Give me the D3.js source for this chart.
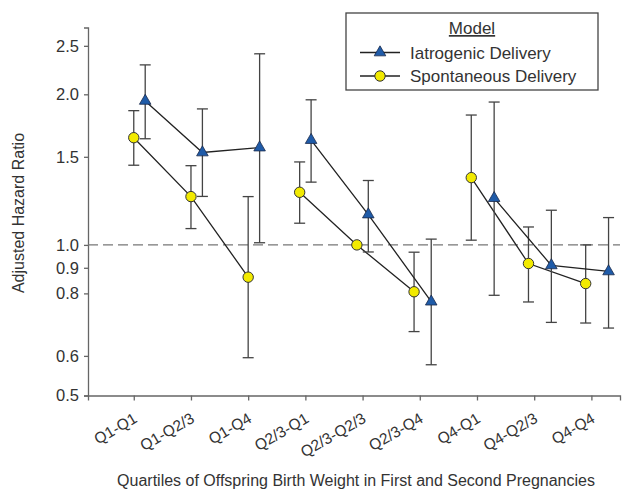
<!DOCTYPE html>
<html>
<head>
<meta charset="utf-8">
<script src="https://cdn.jsdelivr.net/npm/d3@7"></script>
<style>
	body {margin:0; background:#fff;}
	text {font-family: "Liberation Sans", Arial, sans-serif; fill:#333;}
</style>
</head>
<body>
<div id="chartDiv"></div>
<script>
//categories along the bottom
var categories = ['Q1-Q1','Q1-Q2/3','Q1-Q4','Q2/3-Q1','Q2/3-Q2/3','Q2/3-Q4','Q4-Q1','Q4-Q2/3','Q4-Q4'];
var yTicks = [0.5, 0.6, 0.8, 0.9, 1.0, 1.5, 2.0, 2.5];

//iatrogenic delivery (triangles)
var iatroX = [1.2, 2.2, 3.2, 4.1, 5.1, 6.2, 7.3, 8.3, 9.3];
var iatroHR = [1.94, 1.53, 1.565, 1.62, 1.15, 0.77, 1.24, 0.91, 0.885];
var iatroLo = [1.63, 1.25, 1.01, 1.335, 0.968, 0.576, 0.793, 0.70, 0.682];
var iatroHi = [2.29, 1.87, 2.41, 1.95, 1.345, 1.027, 1.93, 1.173, 1.134];

//spontaneous delivery (circles), Q2/3-Q2/3 is the reference
var spontX = [1.0, 2.0, 3.0, 3.9, 4.9, 5.9, 6.9, 7.9, 8.9];
var spontHR = [1.638, 1.249, 0.862, 1.274, 1.0, 0.806, 1.363, 0.918, 0.837];
var spontLo = [1.443, 1.078, 0.595, 1.105, null, 0.671, 1.022, 0.769, 0.698];
var spontHi = [1.855, 1.44, 1.249, 1.465, null, 0.967, 1.818, 1.086, 1.0];

//which points get joined by a line
var groups = [[0,1,2],[3,4,5],[6,7,8]];

var params = {
	width:624,
	height:493,
	axisColor:'#666',
	capHalf:5.5
};

var svg = d3.select('#chartDiv').append('svg')
	.attr('width', params.width)
	.attr('height', params.height)

var x = d3.scaleLinear().domain([0.2, 9.5]).range([88, 620]);
var y = d3.scaleLog().domain([0.5, 2.72]).range([395.5, 27.5]);

//axes
var yAxis = d3.axisLeft(y).tickValues(yTicks).tickFormat(d3.format('.1f')).tickSizeOuter(0).tickSize(4).tickPadding(5);
var gy = svg.append('g').attr('transform','translate(88,0)').call(yAxis);
gy.selectAll('text').style('font-size','16.5px').style('fill','#333');

var xAxis = d3.axisBottom(x).tickValues(d3.range(1,10)).tickFormat(function(d){return categories[d-1]}).tickSizeOuter(0).tickSize(5);
var gx = svg.append('g').attr('transform','translate(0,395.5)').call(xAxis);
gx.selectAll('text')
	.style('font-size','15.5px')
	.style('fill','#333')
	.attr('text-anchor','end')
	.attr('dy', null)
	.attr('y', 0)
	.attr('x', 0)
	.attr('transform','translate(4,26) rotate(-30)');

svg.selectAll('.domain, .tick line').attr('stroke', params.axisColor).attr('stroke-width',1.3);

//reference line at 1
svg.append('line')
	.attr('x1', 88).attr('x2', 620)
	.attr('y1', y(1)).attr('y2', y(1))
	.attr('stroke','#777')
	.attr('stroke-width',1.4)
	.attr('stroke-dasharray','10,5')

function drawSeries(xs, hr, lo, hi, name){
	var g = svg.append('g').attr('class', name);
	var pts = xs.map(function(d,i){return {x:d, hr:hr[i], lo:lo[i], hi:hi[i]}});
	var withErr = pts.filter(function(d){return d.lo != null});

	//error bars
	g.selectAll('.err').data(withErr).enter().append('line')
		.attr('x1', function(d){return x(d.x)}).attr('x2', function(d){return x(d.x)})
		.attr('y1', function(d){return y(d.lo)}).attr('y2', function(d){return y(d.hi)})
		.attr('stroke','#444').attr('stroke-width',1.3);
	['lo','hi'].forEach(function(k){
		g.selectAll('.cap'+k).data(withErr).enter().append('line')
			.attr('x1', function(d){return x(d.x) - params.capHalf}).attr('x2', function(d){return x(d.x) + params.capHalf})
			.attr('y1', function(d){return y(d[k])}).attr('y2', function(d){return y(d[k])})
			.attr('stroke','#444').attr('stroke-width',1.3);
	})

	//connecting lines within each group
	var line = d3.line().x(function(d){return x(d.x)}).y(function(d){return y(d.hr)});
	groups.forEach(function(idx){
		g.append('path')
			.attr('d', line(idx.map(function(i){return pts[i]})))
			.attr('fill','none')
			.attr('stroke','#222')
			.attr('stroke-width',1.3);
	})
	return {g:g, pts:pts};
}

var sp = drawSeries(spontX, spontHR, spontLo, spontHi, 'spont');
var ia = drawSeries(iatroX, iatroHR, iatroLo, iatroHi, 'iatro');

//markers on top
sp.g.selectAll('circle').data(sp.pts).enter().append('circle')
	.attr('cx', function(d){return x(d.x)})
	.attr('cy', function(d){return y(d.hr)})
	.attr('r', 5.2)
	.attr('fill','#f2ea00')
	.attr('stroke','#333')
	.attr('stroke-width',1);
ia.g.selectAll('.tri').data(ia.pts).enter().append('path')
	.attr('d', d3.symbol().type(d3.symbolTriangle).size(58))
	.attr('transform', function(d){return 'translate(' + x(d.x) + ',' + y(d.hr) + ')'})
	.attr('fill','#1f5ba8')
	.attr('stroke','#1a2a4a')
	.attr('stroke-width',0.8);

//axis titles
svg.append('text')
	.attr('transform','translate(24,213) rotate(-90)')
	.attr('text-anchor','middle')
	.style('font-size','16px')
	.text('Adjusted Hazard Ratio');
svg.append('text')
	.attr('x', 356).attr('y', 486)
	.attr('text-anchor','middle')
	.style('font-size','16px')
	.text('Quartiles of Offspring Birth Weight in First and Second Pregnancies');

//legend
var leg = svg.append('g');
leg.append('rect')
	.attr('x',346).attr('y',13).attr('width',252).attr('height',77)
	.attr('fill','#fff').attr('stroke','#444').attr('stroke-width',1.3);
leg.append('text')
	.attr('x',472).attr('y',34)
	.attr('text-anchor','middle')
	.style('font-size','17px')
	.style('text-decoration','underline')
	.text('Model');
var legItems = [{name:'Iatrogenic Delivery', y:52.5, type:'tri'}, {name:'Spontaneous Delivery', y:76, type:'circ'}];
legItems.forEach(function(d){
	leg.append('line').attr('x1',360).attr('x2',400).attr('y1',d.y).attr('y2',d.y).attr('stroke','#222').attr('stroke-width',1.3);
	if (d.type == 'tri'){
		leg.append('path').attr('d', d3.symbol().type(d3.symbolTriangle).size(58))
			.attr('transform','translate(380,' + d.y + ')')
			.attr('fill','#1f5ba8').attr('stroke','#1a2a4a').attr('stroke-width',0.8);
	} else {
		leg.append('circle').attr('cx',380).attr('cy',d.y).attr('r',5.2)
			.attr('fill','#f2ea00').attr('stroke','#333');
	}
	leg.append('text').attr('x',410).attr('y',d.y + 6).style('font-size','17px').text(d.name);
})
</script>
</body>
</html>
